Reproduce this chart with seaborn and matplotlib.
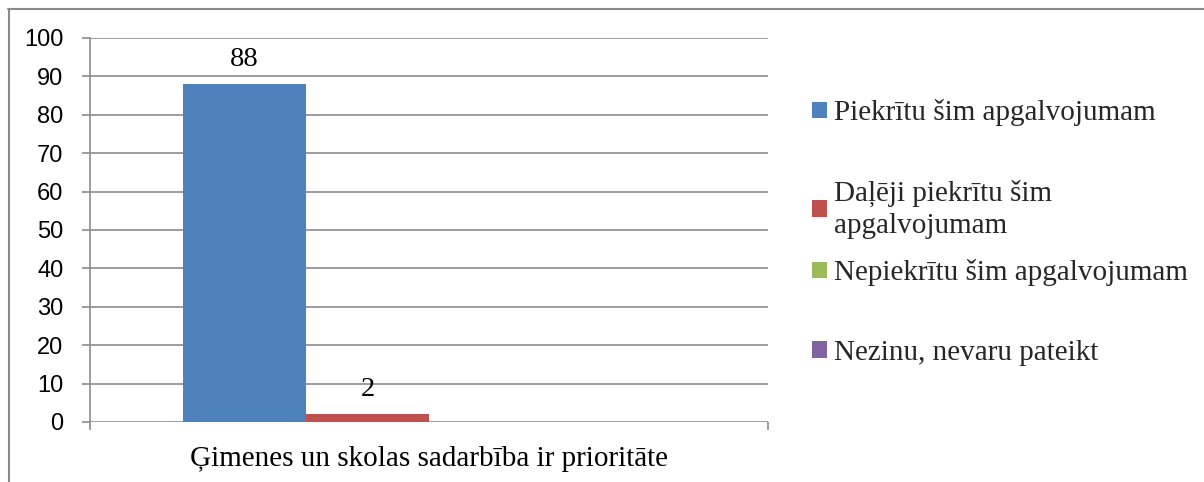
import matplotlib
matplotlib.use("Agg")
import matplotlib.pyplot as plt
from matplotlib.lines import Line2D
import seaborn as sns
import pandas as pd

# Survey answers for a single statement
category = ["Ģimenes un skolas sadarbība ir prioritāte"]
series = [
    "Piekrītu šim apgalvojumam",
    "Daļēji piekrītu šim\napgalvojumam",
    "Nepiekrītu šim apgalvojumam",
    "Nezinu, nevaru pateikt",
]
values = [88, 2, 0, 0]
colors = ["#4F81BD", "#C0504D", "#9BBB59", "#8064A2"]
y_ticks = list(range(0, 101, 10))

df = pd.DataFrame({
    "cat": category * len(series),
    "series": series,
    "value": values,
})

sns.set_theme(style="white")
plt.rcParams["font.family"] = ["Liberation Serif", "DejaVu Serif"]

W, H = 1204, 482
fig = plt.figure(figsize=(W / 100, H / 100), dpi=100)
ax = fig.add_axes([90 / W, (H - 422) / H, (768 - 90) / W, (422 - 38) / H])

sns.barplot(data=df, x="cat", y="value", hue="series", hue_order=series,
            palette=colors, saturation=1, width=0.726, dodge=True,
            edgecolor="none", linewidth=0, ax=ax)

handles, labels = ax.get_legend_handles_labels()
if ax.get_legend() is not None:
    ax.get_legend().remove()

# value labels on the non-empty bars
for cont, v in zip(ax.containers, values):
    if v > 0:
        ax.bar_label(cont, labels=[str(v)], padding=9, fontsize=20.5,
                     family="Liberation Serif", color="black")

grid_c = "#8c8c8c"
ax.set_ylim(0, 100)
ax.set_xlim(-0.5, 0.5)
ax.set_yticks(y_ticks)
ax.set_yticklabels([str(t) for t in y_ticks], family="Liberation Sans",
                   fontsize=17, color="black")
ax.yaxis.grid(True, color=grid_c, linewidth=1.2)
ax.set_axisbelow(True)
ax.tick_params(axis="y", length=6, width=1.2, color=grid_c, pad=13, left=True)

ax.set_xticks([0])
ax.set_xticklabels(category, fontsize=21, family="Liberation Serif", color="black")
ax.set_xticks([-0.5, 0.5], minor=True)
ax.tick_params(axis="x", which="major", length=0, pad=17)
ax.tick_params(axis="x", which="minor", length=6, width=1.2, color=grid_c,
               bottom=True)
ax.set_xlabel("")
ax.set_ylabel("")

for s in ["top", "right", "bottom"]:
    ax.spines[s].set_visible(False)
ax.spines["left"].set_color(grid_c)
ax.spines["left"].set_linewidth(1.2)

# legend entries, one per series, stacked on the right
entry_y = [113, 209, 273, 353]
for h, lab, yy in zip(handles, labels, entry_y):
    leg = fig.legend([h], [lab], loc="center left",
                     bbox_to_anchor=(812 / W, 1 - yy / H),
                     frameon=False, handlelength=0.5,
                     handleheight=0.5, handletextpad=0.25, borderpad=0,
                     borderaxespad=0,
                     prop={"family": "Liberation Serif", "size": 21})
    for t in leg.get_texts():
        t.set_linespacing(1.3)

# outer chart frame (top and left edges)
frame_c = "#8a8a8a"
fig.add_artist(Line2D([8 / W, 1.0], [1 - 8.5 / H, 1 - 8.5 / H],
                      transform=fig.transFigure, color=frame_c, linewidth=1.5))
fig.add_artist(Line2D([8.5 / W, 8.5 / W], [0.0, 1 - 8.5 / H],
                      transform=fig.transFigure, color=frame_c, linewidth=1.5))

fig.savefig("out.png", dpi=100, facecolor="white")
